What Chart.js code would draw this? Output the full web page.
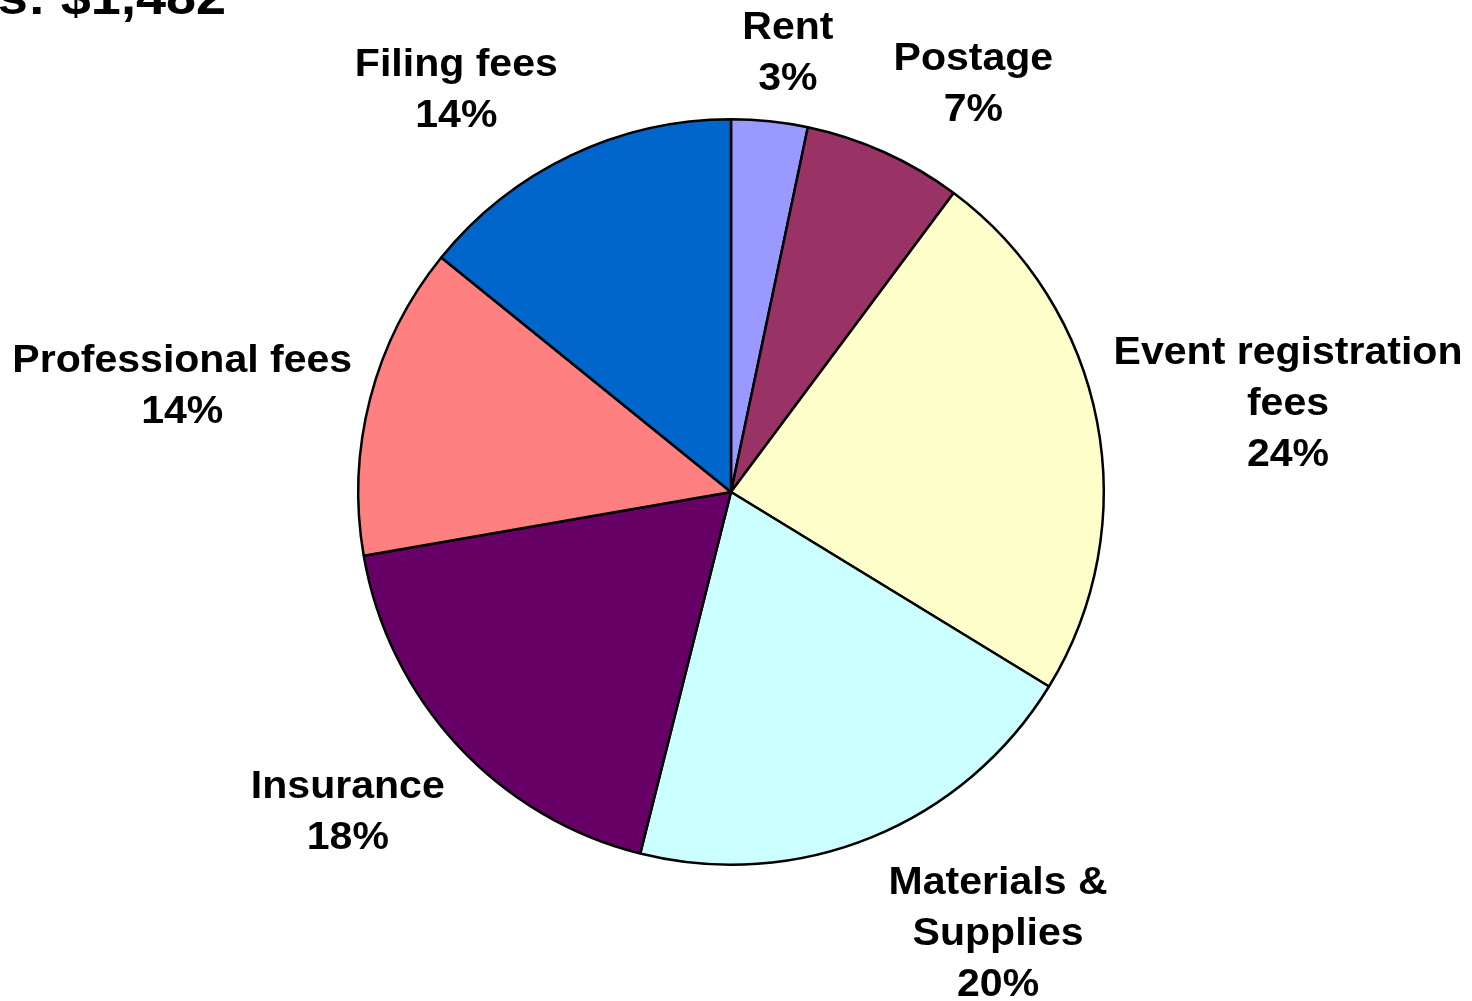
<!DOCTYPE html>
<html>
<head>
<meta charset="utf-8">
<script src="https://cdn.jsdelivr.net/npm/chart.js@4/dist/chart.umd.min.js"></script>
<style>
html,body{margin:0;padding:0;background:#fff;}
canvas{display:block;}
</style>
</head>
<body>
<canvas id="c" width="1472" height="1001"></canvas>
<script>
// ---- data ----
const categories = [
  ["Rent"],
  ["Postage"],
  ["Event registration", "fees"],
  ["Materials &", "Supplies"],
  ["Insurance"],
  ["Professional fees"],
  ["Filing fees"]
];
const amounts = [49, 102, 349, 299, 272, 201, 210];
const titleText = "Total Expenses: $1,482";

// ---- styles ----
const sliceColors = ["#9999FF", "#993366", "#FFFFCC", "#CCFFFF", "#660066", "#FF8080", "#0066CC"];
const labelNudge = [[12, -2], [50, -7], [5, 1], [79, 13], [-28, 22], [-9, 5], [-64, -5]];
const FONT = "bold 38px 'Liberation Sans', Arial, sans-serif";
const STRETCH = 1.08;
const LINE_H = 51;

const total = amounts.reduce((a, b) => a + b, 0);

function stretchedText(ctx, text, x, y) {
  ctx.save();
  ctx.translate(x, y);
  ctx.scale(STRETCH, 1);
  ctx.fillText(text, 0, 0);
  ctx.restore();
}

const labelPlugin = {
  id: 'outsideLabels',
  afterDatasetsDraw(chart) {
    const ctx = chart.ctx;
    const meta = chart.getDatasetMeta(0);
    ctx.save();
    ctx.font = FONT;
    ctx.fillStyle = '#000';
    ctx.textAlign = 'center';
    ctx.textBaseline = 'middle';
    meta.data.forEach((arc, i) => {
      const p = arc.getProps(['x', 'y', 'startAngle', 'endAngle', 'outerRadius'], true);
      const mid = (p.startAngle + p.endAngle) / 2;
      const ux = Math.cos(mid), uy = Math.sin(mid);
      const pct = Math.round(amounts[i] / total * 100) + '%';
      const lines = categories[i].concat([pct]);
      const w = Math.max(...lines.map(l => ctx.measureText(l).width)) * STRETCH;
      const h = lines.length * LINE_H;
      const r = p.outerRadius + 15;
      const cx = p.x + r * ux + (w / 2) * ux + labelNudge[i][0];
      const cy = p.y + r * uy + (h / 2) * uy + labelNudge[i][1];
      lines.forEach((l, k) => {
        stretchedText(ctx, l, cx, cy - h / 2 + LINE_H * (k + 0.5));
      });
    });
    // title (partially outside the view, as in the reference)
    ctx.font = "bold 50px 'Liberation Sans', Arial, sans-serif";
    ctx.textAlign = 'right';
    ctx.textBaseline = 'alphabetic';
    stretchedText(ctx, titleText, 226, 14);
    ctx.restore();
  }
};

new Chart(document.getElementById('c'), {
  type: 'pie',
  data: {
    labels: categories.map(c => c.join(' ')),
    datasets: [{
      data: amounts,
      backgroundColor: sliceColors,
      borderColor: '#000',
      borderWidth: 2.5
    }]
  },
  options: {
    responsive: false,
    animation: false,
    devicePixelRatio: 1,
    layout: { padding: { top: 118, bottom: 135, left: 357, right: 367 } },
    plugins: { legend: { display: false }, tooltip: { enabled: false } }
  },
  plugins: [labelPlugin]
});
</script>
</body>
</html>
